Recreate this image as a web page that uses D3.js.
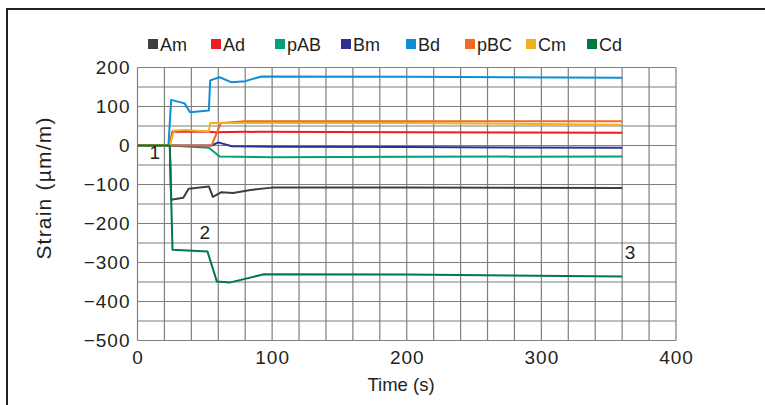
<!DOCTYPE html>
<html>
<head>
<meta charset="utf-8">
<script src="https://cdn.jsdelivr.net/npm/d3@7"></script>
<style>
  body { margin: 0; background: #fff; }
  svg { display: block; font-family: "Liberation Sans", Arial, sans-serif; }
  .grid line { stroke: #7f7f7f; stroke-width: 1.2; }
  .axis text { font-size: 19px; letter-spacing: 1px; fill: #231f20; }
</style>
</head>
<body>
<svg id="chart" width="765" height="405"></svg>
<script>
// series names and colours
var seriesNames = ["Am", "Ad", "pAB", "Bm", "Bd", "pBC", "Cm", "Cd"];
var seriesColors = ["#3f3f3f", "#ed1c24", "#00a07a", "#2e3192", "#0d8fd8", "#f26a21", "#eeb21e", "#007a44"];

// readings: [time (s), strain (µm/m)]
var am  = [[0, 0], [24, 0], [25, -139], [34, -134], [38, -111], [53, -105], [56, -132], [62, -120], [71, -122], [84, -114], [100, -108], [200, -108], [360, -109]];
var ad  = [[0, 0], [24, 0], [26, 36], [53, 35], [58, 34], [80, 35], [200, 34], [360, 33]];
var pAB = [[0, 0], [24, 0], [53, -6], [61, -28], [100, -30], [200, -29], [360, -28]];
var bm  = [[0, 0], [24, 0], [55, 0], [60, 8], [70, -2], [100, -3], [200, -4], [360, -6]];
var bd  = [[0, 0], [23, 0], [25, 117], [35, 108], [39, 85], [53, 90], [54, 167], [61, 175], [70, 162], [80, 165], [92, 177], [200, 176], [360, 174]];
var pBC = [[0, 0], [24, 0], [55, 0], [62, 58], [80, 62], [200, 62], [360, 62]];
var cm  = [[0, 0], [24, 0], [27, 38], [35, 40], [53, 36], [54, 58], [80, 58], [200, 58], [360, 53]];
var cd  = [[0, 0], [24, 0], [26, -267], [52, -272], [59, -349], [69, -351], [94, -330], [200, -331], [360, -336]];
var seriesData = [am, ad, pAB, bm, bd, pBC, cm, cd];

var xTicks = [0, 100, 200, 300, 400];
var yTicks = [200, 100, 0, -100, -200, -300, -400, -500];

// labels placed on the chart: [time, strain, text]
var notes = [[9, -35, "1"], [46, -240, "2"], [362, -292, "3"]];

var svg = d3.select("#chart");

// outer frame (top and left only)
svg.append("path")
  .attr("d", "M7,405 V9 H765")
  .attr("fill", "none")
  .attr("stroke", "#231f20")
  .attr("stroke-width", 2);

var x = d3.scaleLinear().domain([0, 400]).range([137.5, 676]);
var y = d3.scaleLinear().domain([-500, 200]).range([340.5, 67.5]);

// grid
var grid = svg.append("g").attr("class", "grid");
grid.selectAll(".v")
  .data(d3.range(0, 401, 20))
  .enter()
  .append("line")
  .attr("x1", function(d) { return x(d); })
  .attr("x2", function(d) { return x(d); })
  .attr("y1", y(200))
  .attr("y2", y(-500));
grid.selectAll(".h")
  .data(d3.range(-500, 201, 50))
  .enter()
  .append("line")
  .attr("x1", x(0))
  .attr("x2", x(400))
  .attr("y1", function(d) { return y(d); })
  .attr("y2", function(d) { return y(d); });

// axes (labels only, grid does the lines)
var xAxis = d3.axisBottom(x).tickValues(xTicks).tickSize(0).tickPadding(10);
var yAxis = d3.axisLeft(y).tickValues(yTicks).tickSize(0).tickPadding(7)
  .tickFormat(function(d) { return d < 0 ? "\u2212" + Math.abs(d) : d; });

svg.append("g")
  .attr("class", "axis")
  .attr("transform", "translate(0," + y(-500) + ")")
  .call(xAxis)
  .call(function(g) { g.select(".domain").remove(); });

svg.append("g")
  .attr("class", "axis")
  .attr("transform", "translate(" + x(0) + ",0)")
  .call(yAxis)
  .call(function(g) { g.select(".domain").remove(); });

// axis titles
svg.append("text")
  .attr("x", 401)
  .attr("y", 391)
  .attr("text-anchor", "middle")
  .style("font-size", "18.5px")
  .attr("fill", "#231f20")
  .text("Time (s)");

svg.append("text")
  .attr("transform", "translate(51,188) rotate(-90)")
  .attr("text-anchor", "middle")
  .style("font-size", "21px")
  .style("letter-spacing", "1.2px")
  .attr("fill", "#231f20")
  .text("Strain (\u00b5m/m)");

// lines
var line = d3.line()
  .x(function(d) { return x(d[0]); })
  .y(function(d) { return y(d[1]); });

svg.append("g")
  .selectAll("path")
  .data(seriesData)
  .enter()
  .append("path")
  .attr("d", line)
  .attr("fill", "none")
  .attr("stroke", function(d, i) { return seriesColors[i]; })
  .attr("stroke-width", 2)
  .attr("stroke-linejoin", "round");

// notes
svg.append("g")
  .selectAll("text")
  .data(notes)
  .enter()
  .append("text")
  .attr("x", function(d) { return x(d[0]); })
  .attr("y", function(d) { return y(d[1]); })
  .style("font-size", "19px")
  .attr("fill", "#231f20")
  .text(function(d) { return d[2]; });

// legend
var legendX = [148, 211, 275, 341, 406, 465, 526, 587];
var legend = svg.append("g")
  .selectAll("g")
  .data(seriesNames)
  .enter()
  .append("g")
  .attr("transform", function(d, i) { return "translate(" + legendX[i] + ",39)"; });

legend.append("rect")
  .attr("width", 10)
  .attr("height", 10)
  .attr("fill", function(d, i) { return seriesColors[i]; });

legend.append("text")
  .attr("x", 12)
  .attr("y", 12)
  .style("font-size", "18px")
  .attr("fill", "#231f20")
  .text(function(d) { return d; });
</script>
</body>
</html>
